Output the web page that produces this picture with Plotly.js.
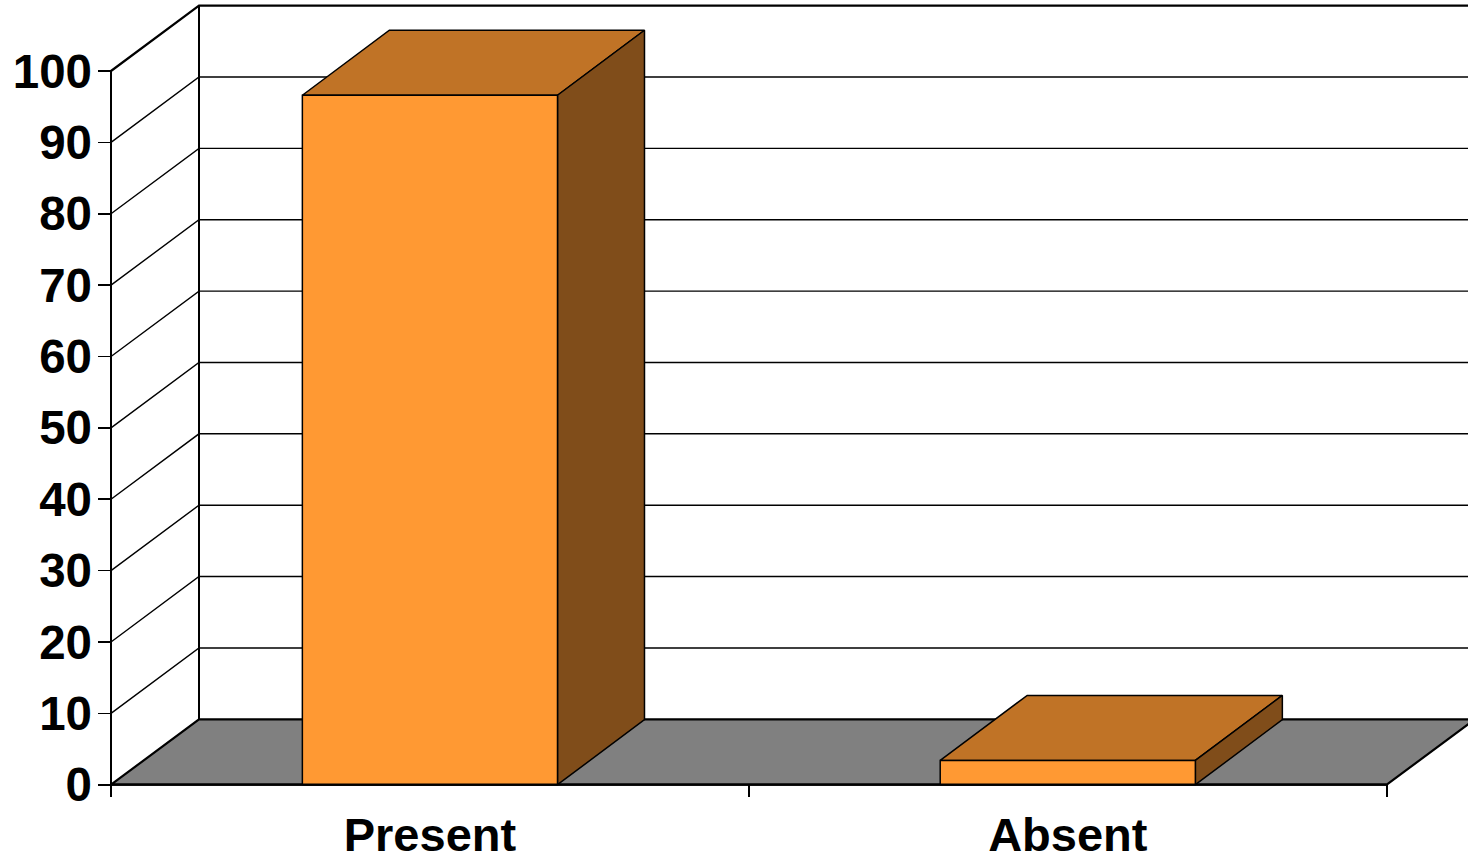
<!DOCTYPE html>
<html>
<head>
<meta charset="utf-8">
<script src="https://cdn.plot.ly/plotly-3.0.1.min.js"></script>
<style>
  html, body { margin: 0; padding: 0; background: #ffffff; }
  #chart { width: 1468px; height: 861px; }
</style>
</head>
<body>
<div id="chart"></div>
<script>
// Data
const categories = ['Present', 'Absent'];
const values = [96.6, 3.4];
const yTickValues = [0, 10, 20, 30, 40, 50, 60, 70, 80, 90, 100];
const yTickLabels = ['0', '10', '20', '30', '40', '50', '60', '70', '80', '90', '100'];

// Geometry of the oblique 3D frame (axis units)
const PX_PER_X = 637.85;          // pixels per category unit
const PX_PER_Y = 7.137;           // pixels per value unit
const DEPTH_X = 88 / PX_PER_X;    // receding offset, horizontal
const DEPTH_Y = 65.4 / PX_PER_Y;  // receding offset, vertical
const BAR_DX = 87 / PX_PER_X;
const BAR_DY = 65 / PX_PER_Y;
const BAR_HALF = 0.2;
const N = categories.length;
const X_MIN = -13 / PX_PER_X;
const X_MAX = X_MIN + 1370 / PX_PER_X;
const Y_MIN = -12.3 / PX_PER_Y;
const Y_MAX = Y_MIN + 796 / PX_PER_Y;

const FRONT = '#FF9933';
const TOP = '#C07326';
const SIDE = '#804D1A';
const FLOOR = '#808080';
const FONT = { family: 'Liberation Sans, Arial, sans-serif', size: 47.5, color: '#000000', weight: 'bold' };
const X_FONT = { family: 'Liberation Sans, Arial, sans-serif', size: 47, color: '#000000', weight: 'bold' };

const traces = [];

function poly(xs, ys, fill, width) {
  traces.push({
    type: 'scatter', mode: 'lines', x: xs.concat([xs[0]]), y: ys.concat([ys[0]]),
    fill: 'toself', fillcolor: fill, line: { color: '#000000', width: width },
    hoverinfo: 'skip', showlegend: false
  });
}
function seg(xs, ys, width) {
  traces.push({
    type: 'scatter', mode: 'lines', x: xs, y: ys,
    line: { color: '#000000', width: width },
    hoverinfo: 'skip', showlegend: false
  });
}

// Gridlines on the back wall and the left side wall
yTickValues.forEach(v => {
  if (v === 0) return;
  const w = v === 100 ? 2.2 : 1.4;
  seg([0, DEPTH_X, X_MAX + 1], [v, v + DEPTH_Y, v + DEPTH_Y], w);
});

// Back wall left edge and front-left value edge
seg([DEPTH_X, DEPTH_X], [DEPTH_Y, 100 + DEPTH_Y], 2);
seg([0, 0], [0, 100], 2);

// Floor
poly([0, DEPTH_X, N + DEPTH_X, N], [0, DEPTH_Y, DEPTH_Y, 0], FLOOR, 2.2);

// Bars: top, side, front faces
values.forEach((v, i) => {
  const x0 = i + 0.5 - BAR_HALF;
  const x1 = i + 0.5 + BAR_HALF;
  poly([x0, x0 + BAR_DX, x1 + BAR_DX, x1], [v, v + BAR_DY, v + BAR_DY, v], TOP, 1.5);
  poly([x1, x1, x1 + BAR_DX, x1 + BAR_DX], [0, v, v + BAR_DY, BAR_DY], SIDE, 1.5);
  poly([x0, x0, x1, x1], [0, v, v, 0], FRONT, 1.5);
});

// Front floor edge
seg([0, N], [0, 0], 2.2);

const layout = {
  width: 1468,
  height: 861,
  margin: { l: 98, r: 0, t: 1, b: 64, pad: 0 },
  paper_bgcolor: '#ffffff',
  plot_bgcolor: '#ffffff',
  showlegend: false,
  xaxis: {
    range: [X_MIN, X_MAX],
    tickvals: [0, 1, 2],
    ticktext: ['', '', ''],
    ticks: 'inside', ticklen: 12, tickwidth: 2, tickcolor: '#000000',
    showgrid: false, zeroline: false, showline: false, fixedrange: true
  },
  xaxis2: {
    overlaying: 'x', anchor: 'y', side: 'bottom',
    range: [X_MIN, X_MAX],
    tickvals: categories.map((c, i) => i + 0.5),
    ticktext: categories,
    ticks: '', tickfont: X_FONT, ticklabelstandoff: 6,
    showgrid: false, zeroline: false, showline: false, fixedrange: true
  },
  yaxis: {
    range: [Y_MIN, Y_MAX],
    tickvals: yTickValues,
    ticktext: yTickLabels,
    ticks: 'inside', ticklen: 13, tickwidth: 1.6, tickcolor: '#000000',
    tickfont: FONT, ticklabelstandoff: 5,
    showgrid: false, zeroline: false, showline: false, fixedrange: true
  }
};

// Empty trace that carries the category label axis
traces.push({ type: 'scatter', x: [], y: [], xaxis: 'x2', yaxis: 'y', hoverinfo: 'skip', showlegend: false });

Plotly.newPlot('chart', traces, layout, { displayModeBar: false, staticPlot: true });
</script>
</body>
</html>
